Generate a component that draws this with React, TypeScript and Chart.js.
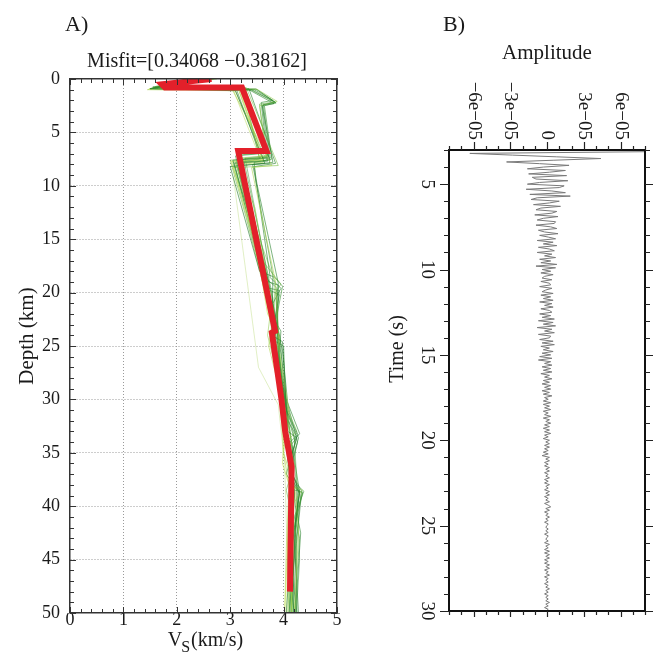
import React, { useEffect, useRef } from 'react';
import { Chart, registerables } from 'chart.js';

Chart.register(...registerables);

const SERIF = "'Liberation Serif', 'Times New Roman', serif";

// ---------------- Panel A: Vs-depth models ----------------
const VS_TICKS = [0, 1, 2, 3, 4, 5];
const DEPTH_TICKS = [0, 5, 10, 15, 20, 25, 30, 35, 40, 45, 50];
const MISFIT_TITLE = 'Misfit=[0.34068 \u22120.38162]';

// [Vs (km/s), depth (km)]
const bestModel: number[][] = [[2.65, 0], [1.72, 0.5], [1.78, 0.8], [3.22, 0.8], [3.68, 6.75], [3.15, 6.75], [3.84, 23.6], [3.78, 23.75], [3.96, 30], [4.03, 33], [4.15, 36.3], [4.12, 48]];

const model01 = [[2.45, 0], [1.55, 0.85], [3.15, 1.0], [3.4, 1.0], [3.85, 2.2], [3.62, 2.4], [3.75, 7.4], [3.05, 7.6], [3.72, 19.0], [3.9, 19.3], [3.88, 25], [4.05, 31], [4.27, 33.3], [4.12, 34.0], [4.15, 38.4], [4.36, 38.7], [4.2, 42], [4.18, 50]];
const model02 = [[2.6, 0], [1.7, 0.7], [3.25, 1.05], [3.55, 7.5], [3.1, 7.8], [3.6, 17], [3.95, 19.2], [3.85, 20], [3.92, 26], [4.0, 32], [4.2, 36], [4.05, 38.5], [4.25, 43], [4.22, 50]];
const model03 = [[2.3, 0], [1.5, 0.9], [3.1, 1.1], [3.65, 7.9], [3.0, 8.2], [3.55, 18], [3.8, 18.5], [3.78, 24], [3.98, 24.6], [4.08, 33], [4.25, 33.6], [4.1, 36], [4.3, 38.8], [4.12, 45], [4.05, 50]];
const model04 = [[2.7, 0], [1.85, 0.6], [3.3, 0.95], [3.5, 0.95], [3.88, 2.1], [3.55, 2.5], [3.68, 7.2], [3.15, 7.4], [3.75, 22], [3.7, 24], [3.95, 29], [4.15, 34], [4.1, 38], [4.35, 38.5], [4.15, 40], [4.15, 50]];
const model05 = [[2.5, 0], [1.6, 0.8], [3.2, 0.8], [3.7, 6.9], [3.2, 7.1], [3.82, 23.5], [3.76, 23.8], [3.98, 31.5], [4.14, 36], [4.12, 50]];
const model06 = [[2.2, 0], [1.45, 1.0], [3.05, 1.1], [3.78, 8.1], [3.4, 8.3], [3.45, 9.5], [3.85, 19], [3.92, 25.5], [4.1, 31], [4.0, 35], [4.22, 38.6], [4.28, 42.5], [4.2, 50]];
const model07 = [[2.55, 0], [1.75, 0.75], [3.35, 1.0], [3.82, 2.3], [3.6, 2.5], [3.8, 7.8], [3.42, 8.0], [3.5, 10], [3.75, 18.6], [3.95, 19.6], [3.8, 21], [3.96, 26], [4.05, 30], [4.3, 33.2], [4.15, 34.2], [4.2, 38.7], [4.1, 44], [4.25, 50]];
const model08 = [[2.35, 0], [1.65, 0.9], [3.18, 0.95], [3.6, 7.6], [3.02, 7.7], [3.5, 16], [3.7, 22], [3.92, 24.2], [3.85, 26], [4.02, 31], [3.98, 36], [4.12, 38.3], [4.02, 50]];
const model09 = [[2.65, 0], [1.8, 0.65], [3.28, 0.9], [3.72, 7.3], [3.25, 7.5], [3.78, 20], [3.83, 24], [3.95, 28], [4.2, 33.5], [4.25, 38], [4.38, 38.6], [4.2, 41], [4.3, 43], [4.2, 50]];
const model10 = [[2.4, 0], [1.55, 0.75], [3.2, 1.0], [3.45, 1.0], [3.8, 2.0], [3.58, 2.2], [3.7, 7.7], [3.08, 7.9], [3.65, 19.5], [3.92, 19.8], [3.82, 24.5], [4.0, 25], [4.05, 32], [4.1, 37], [4.32, 39], [4.18, 46], [4.1, 50]];
const model11 = [[2.75, 0], [1.9, 0.55], [3.3, 0.8], [3.9, 8.1], [3.05, 8.3], [3.55, 15], [3.84, 19], [3.8, 25.5], [4.0, 30], [4.25, 33.0], [4.08, 33.8], [4.2, 39], [4.08, 50]];
const model12 = [[2.25, 0], [1.5, 0.95], [3.12, 1.0], [3.55, 7.0], [3.1, 7.2], [3.72, 21], [3.9, 25], [3.95, 30.5], [4.1, 36.5], [4.3, 38.5], [4.2, 43], [4.28, 50]];
const model13 = [[2.5, 0], [1.7, 0.8], [3.22, 1.0], [3.5, 1.0], [3.86, 2.25], [3.64, 2.5], [3.78, 7.5], [3.45, 7.8], [3.48, 9.6], [3.8, 18.4], [3.98, 19.4], [3.88, 22], [3.94, 26.5], [4.1, 32], [4.22, 34], [4.05, 37], [4.25, 38.5], [4.15, 50]];
const model14 = [[2.6, 0], [1.6, 0.7], [3.15, 0.9], [3.62, 7.8], [3.12, 8.0], [3.52, 17], [3.78, 23], [3.72, 25], [3.92, 29], [4.0, 35], [4.1, 38], [4.05, 44], [4.02, 50]];
const model15 = [[2.45, 0], [1.75, 0.85], [3.25, 1.05], [3.75, 7.6], [3.18, 7.8], [3.82, 22.5], [3.95, 23.6], [3.9, 27], [4.08, 31.5], [4.28, 33.6], [4.15, 36], [4.22, 40], [4.32, 42.5], [4.22, 50]];
const model16 = [[2.35, 0], [1.58, 0.8], [3.08, 0.95], [3.66, 7.4], [3.0, 7.6], [3.3, 13], [3.68, 20.5], [3.88, 24], [4.0, 29.5], [4.12, 33], [4.15, 38], [4.35, 38.8], [4.18, 42], [4.12, 50]];
const model17 = [[2.55, 0], [1.65, 0.75], [3.2, 0.95], [3.58, 7.0], [3.06, 9.2], [3.53, 27], [3.9, 30.5], [4.02, 36], [4.1, 50]];
const model18 = [[2.62, 0], [1.82, 0.7], [3.35, 0.9], [3.85, 7.9], [3.45, 8.2], [3.5, 9.8], [3.9, 19.1], [3.85, 22.5], [3.98, 25.5], [4.08, 30.5], [4.26, 34], [4.12, 37], [4.28, 38.6], [4.15, 48], [4.2, 50]];
const model19 = [[2.3, 0], [1.52, 0.9], [3.1, 1.05], [3.4, 1.05], [3.82, 2.15], [3.55, 2.35], [3.68, 7.6], [3.06, 7.8], [3.58, 17.5], [3.8, 20.5], [3.86, 24.8], [3.97, 31], [4.05, 34], [4.18, 38.2], [4.08, 45], [4.12, 50]];
const model20 = [[2.5, 0], [1.68, 0.8], [3.22, 0.95], [3.72, 7.3], [3.2, 7.5], [3.75, 19.8], [3.92, 20.2], [3.8, 23.5], [3.95, 27.5], [4.12, 33], [4.3, 38.7], [4.22, 41], [4.25, 50]];
const model21 = [[2.4, 0], [1.6, 0.85], [3.16, 1.0], [3.63, 7.5], [3.04, 7.7], [3.62, 19], [3.76, 23], [3.93, 28.5], [4.06, 34], [4.2, 38.4], [4.16, 50]];
const model22 = [[2.58, 0], [1.78, 0.7], [3.3, 0.92], [3.48, 0.92], [3.84, 2.15], [3.6, 2.45], [3.74, 7.9], [3.14, 8.1], [3.7, 18.8], [3.86, 19.5], [3.9, 24.5], [4.02, 31.5], [4.24, 33.4], [4.1, 36.5], [4.34, 38.6], [4.24, 43.5], [4.18, 50]];
const model23 = [[2.28, 0], [1.48, 0.92], [3.06, 1.02], [3.58, 7.7], [3.1, 7.9], [3.46, 12], [3.74, 20], [3.86, 25], [3.98, 30], [4.16, 36], [4.08, 42], [4.06, 50]];
const model24 = [[2.68, 0], [1.88, 0.62], [3.24, 0.88], [3.7, 7.2], [3.28, 7.4], [3.8, 21], [3.94, 24.4], [4.04, 31], [4.18, 35], [4.26, 39], [4.3, 45], [4.24, 50]];

const ensembleModels = [model01, model02, model03, model04, model05, model06, model07, model08, model09, model10, model11, model12, model13, model14, model15, model16, model17, model18, model19, model20, model21, model22, model23, model24];
const ensembleColors = [
  'rgba(46,139,46,0.6)', 'rgba(96,172,60,0.55)', 'rgba(34,120,40,0.6)', 'rgba(140,200,70,0.55)',
  'rgba(60,150,50,0.6)', 'rgba(170,212,80,0.6)', 'rgba(40,130,45,0.6)', 'rgba(196,224,96,0.65)',
  'rgba(70,155,55,0.55)', 'rgba(50,140,48,0.6)', 'rgba(120,190,66,0.55)', 'rgba(36,125,42,0.55)',
  'rgba(58,146,50,0.6)', 'rgba(180,216,86,0.6)', 'rgba(44,134,46,0.6)', 'rgba(110,182,62,0.55)',
  'rgba(170,210,90,0.35)', 'rgba(38,128,44,0.6)', 'rgba(84,164,56,0.55)', 'rgba(52,142,48,0.6)',
  'rgba(150,204,74,0.5)', 'rgba(42,132,45,0.55)', 'rgba(188,220,92,0.55)', 'rgba(64,152,52,0.5)'
];

// ---------------- Panel B: waveform ----------------
const AMP_TICKS = [-6, -3, 0, 3, 6]; // units of 1e-5
const AMP_TICK_LABELS = ['\u22126e\u221205', '\u22123e\u221205', '0', '3e\u221205', '6e\u221205'];
const TIME_TICKS = [5, 10, 15, 20, 25, 30];
const TRACE_T0 = 3.0; // s
const TRACE_DT = 0.1; // s
// amplitude samples, units of 1e-5
const traceAmp = [
  8.0, 8.0, -6.3, -2.8, 0.8, 4.4, 0.5, -3.3, -0.6, 1.8,
  -0.3, -1.6, 1.5, 0.2, -1.5, 1.6, -1.2, -0.9, 1.7, -0.6,
  -1.6, 1.4, 1.0, -1.7, 0.4, 1.5, -1.4, 1.9, -0.8, -1.3,
  1.0, 0.2, -1.1, 1.1, -0.5, -0.9, 0.8, 0.4, -1.0, 0.9,
  -0.3, -0.8, 0.7, 0.6, -0.9, 0.3, 0.8, -0.7, -0.2, 0.9,
  -0.6, 0.1, 0.7, -0.8, 0.5, -0.3, 0.8, -0.7, 0.2, 0.6,
  -0.8, 0.4, -0.2, 0.7, -0.6, 0.3, -0.5, 0.8, -0.9, 0.7,
  -0.4, 0.3, -0.5, 0.5, -0.2, -0.4, 0.4, -0.5, 0.2, 0.3,
  -0.6, 0.4, -0.1, -0.4, 0.5, -0.5, 0.3, -0.3, 0.5, -0.6,
  0.4, -0.2, 0.5, -0.5, 0.2, 0.4, -0.6, 0.3, -0.4, 0.6,
  -0.7, 0.5, -0.3, 0.7, -0.8, 0.4, -0.2, 0.6, -0.7, 0.3,
  0.2, -0.6, 0.5, -0.4, 0.6, -0.5, 0.2, -0.3, 0.5, -0.4,
  0.3, -0.6, 0.4, -0.7, 0.3, -0.2, 0.4, -0.4, 0.3, -0.3,
  0.4, -0.5, 0.2, -0.2, 0.4, -0.3, 0.2, -0.4, 0.3, -0.2,
  0.3, -0.4, 0.2, -0.3, 0.4, -0.2, 0.1, -0.3, 0.3, -0.3,
  0.2, -0.2, 0.3, -0.3, 0.1, -0.2, 0.3, -0.3, 0.2, -0.1,
  0.3, -0.2, 0.2, -0.3, 0.2, -0.2, 0.3, -0.2, 0.1, -0.3,
  0.2, -0.1, 0.2, -0.2, 0.2, -0.2, 0.1, -0.3, 0.1, -0.4,
  0.2, -0.1, 0.2, -0.2, 0.1, -0.2, 0.2, -0.1, 0.2, -0.2,
  0.1, -0.1, 0.2, -0.2, 0.1, -0.2, 0.2, -0.1, 0.1, -0.2,
  0.2, -0.1, 0.2, -0.2, 0.1, -0.1, 0.2, -0.2, 0.1, 0.3,
  -0.1, 0.2, -0.2, 0.1, -0.1, 0.2, -0.1, 0.1, -0.2, 0.1,
  0.0, -0.1, 0.1, -0.1, 0.1, -0.2, 0.1, 0.0, -0.1, 0.1,
  -0.2, 0.2, -0.1, 0.1, -0.2, 0.2, -0.2, 0.2, -0.1, 0.2,
  -0.2, 0.1, -0.2, 0.2, -0.1, 0.2, -0.2, 0.1, -0.1, 0.2,
  -0.2, 0.1, -0.1, 0.1, -0.2, 0.1, -0.1, 0.2, -0.1, 0.1,
  -0.2, 0.1, -0.1, 0.1, -0.1, 0.2, -0.1, 0.1, -0.2, 0.1,
  -0.1, 0.0
];

// ---------------- helpers ----------------
function stepValues(min: number, max: number, step: number): number[] {
  const out: number[] = [];
  const n = Math.round((max - min) / step);
  for (let i = 0; i <= n; i++) out.push(+(min + i * step).toFixed(6));
  return out;
}

type TickSpec = {
  scaleId: string;
  edge: 'top' | 'bottom' | 'left' | 'right';
  major: number[];
  minor: number[];
  majorLen: number;
  minorLen: number;
  inward: boolean;
};

function makeTickPlugin(id: string, specs: TickSpec[], color: string, width: number) {
  return {
    id,
    afterDraw(chart: any) {
      const { ctx, chartArea: ca } = chart;
      ctx.save();
      ctx.strokeStyle = color;
      ctx.lineWidth = width;
      ctx.beginPath();
      for (const s of specs) {
        const scale = chart.scales[s.scaleId];
        const sgn = s.inward ? 1 : -1;
        const draw = (v: number, len: number) => {
          const p = Math.round(scale.getPixelForValue(v)) + 0.5;
          if (s.edge === 'bottom') { ctx.moveTo(p, ca.bottom); ctx.lineTo(p, ca.bottom - sgn * len); }
          else if (s.edge === 'top') { ctx.moveTo(p, ca.top); ctx.lineTo(p, ca.top + sgn * len); }
          else if (s.edge === 'left') { ctx.moveTo(ca.left, p); ctx.lineTo(ca.left + sgn * len, p); }
          else { ctx.moveTo(ca.right, p); ctx.lineTo(ca.right - sgn * len, p); }
        };
        s.minor.forEach((v) => draw(v, s.minorLen));
        s.major.forEach((v) => draw(v, s.majorLen));
      }
      ctx.stroke();
      ctx.restore();
    },
  };
}

const panelATextPlugin = {
  id: 'panelAText',
  afterDraw(chart: any) {
    const { ctx, chartArea: ca } = chart;
    ctx.save();
    ctx.fillStyle = '#1a1a1a';
    ctx.textBaseline = 'alphabetic';
    ctx.font = `22px ${SERIF}`;
    ctx.textAlign = 'left';
    ctx.fillText('A)', 65, 31);
    ctx.font = `20px ${SERIF}`;
    ctx.textAlign = 'center';
    ctx.fillText(MISFIT_TITLE, 197, 67);
    // y title
    ctx.save();
    ctx.translate(33, 336);
    ctx.rotate(-Math.PI / 2);
    ctx.font = `21px ${SERIF}`;
    ctx.textAlign = 'center';
    ctx.fillText('Depth (km)', 0, 0);
    ctx.restore();
    // x title V_S (km/s)
    ctx.textAlign = 'left';
    ctx.font = `20px ${SERIF}`;
    const wV = ctx.measureText('V').width;
    const wRest = ctx.measureText('(km/s)').width;
    ctx.font = `16px ${SERIF}`;
    const wS = ctx.measureText('S').width;
    const total = wV + wS + wRest;
    const x0 = (ca.left + ca.right) / 2 - total / 2 + 2;
    ctx.font = `20px ${SERIF}`;
    ctx.fillText('V', x0, 646);
    ctx.font = `16px ${SERIF}`;
    ctx.fillText('S', x0 + wV - 1, 652);
    ctx.font = `20px ${SERIF}`;
    ctx.fillText('(km/s)', x0 + wV + wS, 646);
    ctx.restore();
  },
};

const panelBTextPlugin = {
  id: 'panelBText',
  afterDraw(chart: any) {
    const { ctx, chartArea: ca, scales } = chart;
    ctx.save();
    ctx.fillStyle = '#1a1a1a';
    ctx.textBaseline = 'alphabetic';
    ctx.font = `22px ${SERIF}`;
    ctx.textAlign = 'left';
    ctx.fillText('B)', 83, 31);
    ctx.font = `21px ${SERIF}`;
    ctx.textAlign = 'center';
    ctx.fillText('Amplitude', (ca.left + ca.right) / 2, 59);
    ctx.font = `19px ${SERIF}`;
    AMP_TICKS.forEach((v, i) => {
      const px = scales.x.getPixelForValue(v);
      ctx.save();
      ctx.translate(px, ca.top - 10);
      ctx.rotate(Math.PI / 2);
      ctx.textAlign = 'right';
      ctx.textBaseline = 'middle';
      ctx.fillText(AMP_TICK_LABELS[i], 0, 0);
      ctx.restore();
    });
    TIME_TICKS.forEach((v) => {
      const py = scales.y.getPixelForValue(v);
      ctx.save();
      ctx.translate(ca.left - 22.5, py);
      ctx.rotate(Math.PI / 2);
      ctx.textAlign = 'center';
      ctx.textBaseline = 'middle';
      ctx.fillText(String(v), 0, 0);
      ctx.restore();
    });
    ctx.save();
    ctx.translate(43, 349);
    ctx.rotate(-Math.PI / 2);
    ctx.font = `20px ${SERIF}`;
    ctx.textAlign = 'center';
    ctx.textBaseline = 'alphabetic';
    ctx.fillText('Time (s)', 0, 0);
    ctx.restore();
    ctx.restore();
  },
};

function frameAxis(position: string, min: number, max: number, reverse: boolean, color: string, width: number, size: 'w' | 'h') {
  return {
    type: 'linear',
    position,
    min,
    max,
    reverse,
    display: true,
    ticks: { display: false },
    grid: { display: false, drawTicks: false, drawOnChartArea: false },
    border: { display: true, color, width, z: 2 },
    afterFit: (s: any) => { if (size === 'w') s.width = 0; else s.height = 0; },
  };
}

function buildConfigA(): any {
  const datasets: any[] = [
    {
      label: 'Best model',
      data: bestModel.map(([x, y]) => ({ x, y })),
      showLine: true,
      borderColor: '#e3202a',
      borderWidth: 6,
      pointRadius: 0,
      borderJoinStyle: 'miter',
      borderCapStyle: 'butt',
      tension: 0,
    },
    ...ensembleModels.map((m, i) => ({
      label: `Model ${i + 1}`,
      data: m.map(([x, y]) => ({ x, y })),
      showLine: true,
      borderColor: ensembleColors[i % ensembleColors.length],
      borderWidth: 1,
      pointRadius: 0,
      tension: 0,
    })),
  ];
  const frameColor = '#333';
  const gridColor = '#9a9a9a';
  return {
    type: 'scatter',
    data: { datasets },
    options: {
      responsive: false,
      animation: false,
      events: [],
      layout: { padding: { left: 0, right: 23, top: 79, bottom: 0 } },
      plugins: { legend: { display: false }, tooltip: { enabled: false } },
      scales: {
        x: {
          type: 'linear', position: 'bottom', min: 0, max: 5,
          afterBuildTicks: (s: any) => { s.ticks = VS_TICKS.map((v) => ({ value: v })); },
          ticks: { font: { family: SERIF, size: 18 }, color: '#1a1a1a', padding: -4, maxRotation: 0, autoSkip: false },
          grid: {
            drawTicks: false,
            color: gridColor,
            lineWidth: (c: any) => (c.tick && (c.tick.value === 0 || c.tick.value === 5) ? 0 : 1),
          },
          border: { display: true, color: frameColor, width: 1.5, dash: [1, 2], z: 2 },
          afterFit: (s: any) => { s.height = 41; },
        },
        y: {
          type: 'linear', position: 'left', min: 0, max: 50, reverse: true,
          afterBuildTicks: (s: any) => { s.ticks = DEPTH_TICKS.map((v) => ({ value: v })); },
          ticks: { font: { family: SERIF, size: 18 }, color: '#1a1a1a', padding: 10, autoSkip: false },
          grid: {
            drawTicks: false,
            color: gridColor,
            lineWidth: (c: any) => (c.tick && (c.tick.value === 0 || c.tick.value === 50) ? 0 : 1),
          },
          border: { display: true, color: frameColor, width: 1.5, dash: [1, 2], z: 2 },
          afterFit: (s: any) => { s.width = 70; },
        },
        x2: frameAxis('top', 0, 5, false, frameColor, 1.5, 'h'),
        y2: frameAxis('right', 0, 50, true, frameColor, 1.5, 'w'),
      },
    },
    plugins: [
      makeTickPlugin('ticksA', [
        { scaleId: 'x', edge: 'bottom', major: VS_TICKS, minor: stepValues(0, 5, 0.2), majorLen: 6, minorLen: 4, inward: true },
        { scaleId: 'x', edge: 'top', major: VS_TICKS, minor: stepValues(0, 5, 0.2), majorLen: 6, minorLen: 4, inward: true },
        { scaleId: 'y', edge: 'left', major: DEPTH_TICKS, minor: stepValues(0, 50, 1), majorLen: 6, minorLen: 4, inward: true },
        { scaleId: 'y', edge: 'right', major: DEPTH_TICKS, minor: stepValues(0, 50, 1), majorLen: 6, minorLen: 4, inward: true },
      ], '#333', 1),
      panelATextPlugin,
    ],
  };
}

function buildConfigB(): any {
  const traceData = traceAmp.map((a, i) => ({ x: a, y: +(TRACE_T0 + i * TRACE_DT).toFixed(3) }));
  const frameColor = '#111';
  return {
    type: 'scatter',
    data: {
      datasets: [
        {
          label: 'Waveform',
          data: traceData,
          showLine: true,
          borderColor: '#7a7a7a',
          borderWidth: 1,
          pointRadius: 0,
          tension: 0,
        },
      ],
    },
    options: {
      responsive: false,
      animation: false,
      events: [],
      layout: { padding: { left: 89, right: 10, top: 150, bottom: 43 } },
      plugins: { legend: { display: false }, tooltip: { enabled: false } },
      scales: {
        x: frameAxis('bottom', -8, 8, false, frameColor, 2, 'h'),
        y: frameAxis('left', 3, 30, true, frameColor, 2, 'w'),
        x2: frameAxis('top', -8, 8, false, frameColor, 2, 'h'),
        y2: frameAxis('right', 3, 30, true, frameColor, 2, 'w'),
      },
    },
    plugins: [
      makeTickPlugin('ticksB', [
        { scaleId: 'x', edge: 'top', major: AMP_TICKS, minor: stepValues(-8, 8, 1), majorLen: 8, minorLen: 4, inward: false },
        { scaleId: 'x', edge: 'bottom', major: AMP_TICKS, minor: stepValues(-8, 8, 1), majorLen: 6, minorLen: 4, inward: false },
        { scaleId: 'y', edge: 'left', major: TIME_TICKS, minor: stepValues(3, 30, 1), majorLen: 9, minorLen: 5, inward: false },
        { scaleId: 'y', edge: 'right', major: TIME_TICKS, minor: stepValues(3, 30, 1), majorLen: 8, minorLen: 5, inward: false },
      ], '#222', 1.2),
      panelBTextPlugin,
    ],
  };
}

export default function App() {
  const refA = useRef<HTMLCanvasElement>(null);
  const refB = useRef<HTMLCanvasElement>(null);

  useEffect(() => {
    const a = new Chart(refA.current as HTMLCanvasElement, buildConfigA());
    const b = new Chart(refB.current as HTMLCanvasElement, buildConfigB());
    return () => {
      a.destroy();
      b.destroy();
    };
  }, []);

  return (
    <div style={{ position: 'absolute', left: 0, top: 0, width: 655, height: 654, background: '#fff', overflow: 'hidden' }}>
      <canvas ref={refA} width={360} height={654} style={{ position: 'absolute', left: 0, top: 0, width: 360, height: 654 }} />
      <canvas ref={refB} width={295} height={654} style={{ position: 'absolute', left: 360, top: 0, width: 295, height: 654 }} />
    </div>
  );
}
